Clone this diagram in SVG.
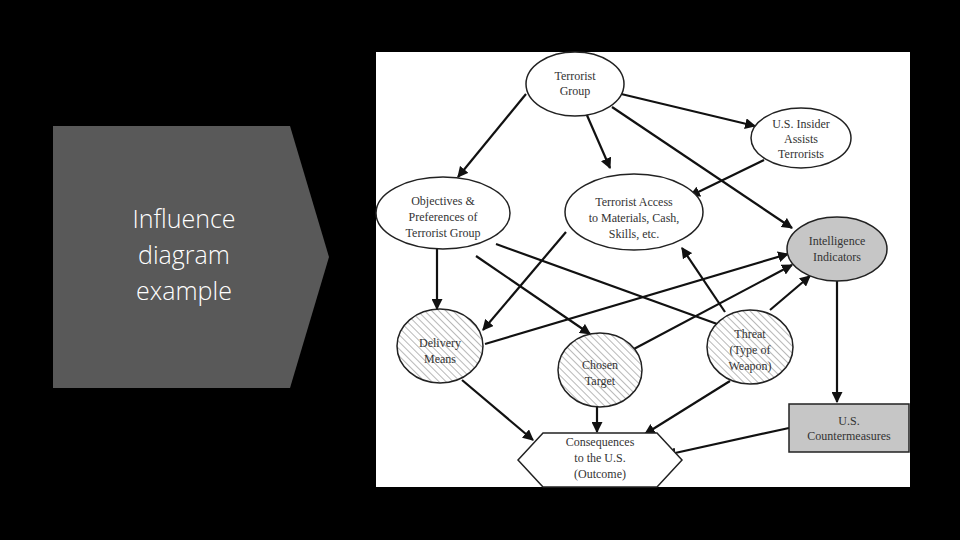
<svg xmlns="http://www.w3.org/2000/svg" width="960" height="540" viewBox="0 0 960 540">
<defs>
<marker id="ah" viewBox="0 0 10 10" refX="9" refY="5" markerWidth="5" markerHeight="5" orient="auto"><path d="M0,0 L10,5 L0,10 z" fill="#111"/></marker>
<pattern id="hatch" width="5" height="5" patternUnits="userSpaceOnUse" patternTransform="rotate(-45)"><rect width="5" height="5" fill="#fff"/><line x1="0" y1="0" x2="0" y2="5" stroke="#888" stroke-width="1.2"/></pattern>
<style>
.n{stroke:#222;stroke-width:1.5;fill:#fff}
.h{fill:url(#hatch)}
.g{fill:#c6c6c6}
.t{font-family:"Liberation Serif",serif;font-size:12px;fill:#333;text-anchor:middle}
.c line{stroke:#111;stroke-width:2.2;marker-end:url(#ah)}
</style>
</defs>
<rect width="960" height="540" fill="#000"/>
<g id="title">
<polygon points="53,126 290,126 329,257 290,388 53,388" fill="#595959"/>
<text x="184" y="228" font-family="Open Sans,sans-serif" font-size="25" fill="#fff" text-anchor="middle" font-weight="300">Influence</text>
<text x="184" y="264" font-family="Open Sans,sans-serif" font-size="25" fill="#fff" text-anchor="middle" font-weight="300">diagram</text>
<text x="184" y="300" font-family="Open Sans,sans-serif" font-size="25" fill="#fff" text-anchor="middle" font-weight="300">example</text>
</g>
<rect x="376" y="52" width="534" height="435" fill="#fff"/>
<g class="c" id="connectors">
<line x1="526" y1="94" x2="458" y2="177"/>
<line x1="586" y1="113" x2="610" y2="168"/>
<line x1="617" y1="93" x2="755" y2="126"/>
<line x1="612" y1="107" x2="792" y2="228"/>
<line x1="764" y1="160" x2="690" y2="196"/>
<line x1="437" y1="249" x2="437" y2="309"/>
<line x1="476" y1="256" x2="590" y2="334"/>
<line x1="496" y1="244" x2="731" y2="329"/>
<line x1="566" y1="232" x2="483" y2="330"/>
<line x1="485" y1="344" x2="788" y2="254"/>
<line x1="632" y1="350" x2="792" y2="265"/>
<line x1="725" y1="312" x2="682" y2="248"/>
<line x1="770" y1="310" x2="810" y2="276"/>
<line x1="837" y1="281" x2="837" y2="402"/>
<line x1="462" y1="380" x2="533" y2="440"/>
<line x1="597" y1="407" x2="597" y2="432"/>
<line x1="730" y1="381" x2="645" y2="434"/>
<line x1="789" y1="428" x2="666" y2="455"/>
</g>
<g id="terrorist-group"><ellipse class="n" cx="575" cy="84" rx="49" ry="32"/><text class="t" x="575" y="80">Terrorist</text><text class="t" x="575" y="95">Group</text></g>
<g id="insider"><ellipse class="n" cx="801" cy="138" rx="50" ry="30"/><text class="t" x="801" y="128">U.S. Insider</text><text class="t" x="801" y="143">Assists</text><text class="t" x="801" y="158">Terrorists</text></g>
<g id="objectives"><ellipse class="n" cx="443" cy="213" rx="67" ry="36"/><text class="t" x="443" y="205">Objectives &amp;</text><text class="t" x="443" y="221">Preferences of</text><text class="t" x="443" y="237">Terrorist Group</text></g>
<g id="access"><ellipse class="n" cx="634" cy="212" rx="69" ry="38"/><text class="t" x="634" y="206">Terrorist Access</text><text class="t" x="634" y="222">to Materials, Cash,</text><text class="t" x="634" y="238">Skills, etc.</text></g>
<g id="intelligence"><ellipse class="n g" cx="837" cy="249" rx="50" ry="32"/><text class="t" x="837" y="245">Intelligence</text><text class="t" x="837" y="261">Indicators</text></g>
<g id="delivery"><ellipse class="n h" cx="440" cy="346" rx="43" ry="37"/><text class="t" x="440" y="347">Delivery</text><text class="t" x="440" y="363">Means</text></g>
<g id="target"><ellipse class="n h" cx="600" cy="370" rx="42" ry="37"/><text class="t" x="600" y="369">Chosen</text><text class="t" x="600" y="385">Target</text></g>
<g id="threat"><ellipse class="n h" cx="750" cy="347" rx="43" ry="37"/><text class="t" x="750" y="338">Threat</text><text class="t" x="750" y="354">(Type of</text><text class="t" x="750" y="370">Weapon)</text></g>
<g id="countermeasures"><rect class="n g" x="789" y="404" width="120" height="48"/><text class="t" x="849" y="425">U.S.</text><text class="t" x="849" y="440">Countermeasures</text></g>
<g id="consequences"><polygon class="n" points="518,460 543,433 657,433 682,460 657,487 543,487"/><text class="t" x="600" y="446">Consequences</text><text class="t" x="600" y="462">to the U.S.</text><text class="t" x="600" y="478">(Outcome)</text></g>
</svg>
